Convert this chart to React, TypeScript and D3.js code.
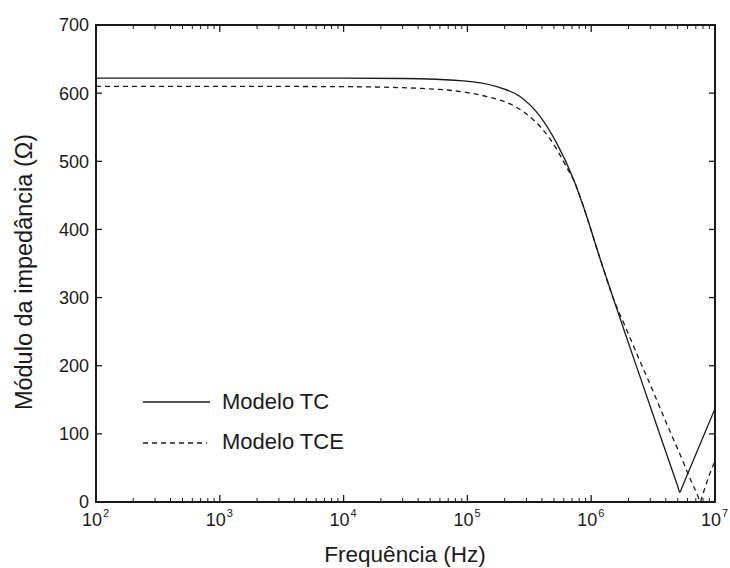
import React from 'react';
import * as d3 from 'd3';

// Frequency (Hz) and impedance magnitude (Ohm)
const tcFreq = [1e2, 1e3, 1e4, 3e4, 9.3e4, 1.73e5, 2.66e5, 3.86e5, 5.25e5, 7.18e5, 8.6e5, 1.18e6, 1.5e6, 1.9e6, 2.6e6, 3.6e6, 5.0e6, 5.2e6, 5.4e6, 7.5e6, 1e7];
const tcZ = [622, 622, 622, 621.5, 618, 609.5, 595, 566, 527, 474, 435, 357, 300, 245, 173, 98, 23, 14, 21, 83, 137];

const tceFreq = [1e2, 1e3, 1e4, 4.14e4, 7.7e4, 1.43e5, 2.34e5, 3.4e5, 4.65e5, 6.3e5, 7.64e5, 8.6e5, 1.18e6, 1.5e6, 1.9e6, 2.5e6, 3.0e6, 4.07e6, 5.5e6, 6.3e6, 7.3e6, 7.6e6, 7.8e6, 9.1e6, 1e7];
const tceZ = [610, 610, 609.5, 607, 603.6, 595, 582, 561, 533, 492, 462, 435, 357, 300, 256, 205, 172, 115, 60, 34, 8, 0, 6, 42, 60];

const xExponents = [2, 3, 4, 5, 6, 7];
const yTicks = [0, 100, 200, 300, 400, 500, 600, 700];
const seriesNames = ['Modelo TC', 'Modelo TCE'];
const xTitle = 'Frequência (Hz)';
const yTitle = 'Módulo da impedância (Ω)';

const W = 730, H = 568;
const L = 96, R = 715, T = 25, B = 502;
const ink = '#1a1a1a';
const font = 'Liberation Sans, Arial, sans-serif';

export default function App() {
  const x = d3.scaleLog().domain([1e2, 1e7]).range([L, R]);
  const y = d3.scaleLinear().domain([0, 700]).range([B, T]);
  const line = d3.line<number>().curve(d3.curveMonotoneX);
  const tcPts = tcFreq.map((f, i) => [x(f), y(tcZ[i])] as [number, number]);
  const tcePts = tceFreq.map((f, i) => [x(f), y(tceZ[i])] as [number, number]);

  const minor: number[] = [];
  for (let e = 2; e < 7; e++) for (let k = 2; k <= 9; k++) minor.push(k * Math.pow(10, e));

  return (
    <svg width={W} height={H} style={{ position: 'absolute', left: 0, top: 0, background: '#fff' }} fontFamily={font}>
      <defs>
        <clipPath id="plotclip"><rect x={L} y={T} width={R - L} height={B - T} /></clipPath>
      </defs>
      <g clipPath="url(#plotclip)">
        <path d={line(tcPts as any) || ''} fill="none" stroke={ink} strokeWidth={1.3} />
        <path d={line(tcePts as any) || ''} fill="none" stroke={ink} strokeWidth={1.3} strokeDasharray="5,4" />
      </g>
      {/* frame */}
      <rect x={L} y={T} width={R - L} height={B - T} fill="none" stroke={ink} strokeWidth={2} />
      {/* x ticks */}
      {xExponents.map(e => {
        const px = x(Math.pow(10, e));
        return (
          <g key={'xt' + e}>
            <line x1={px} x2={px} y1={B} y2={B - 7} stroke={ink} strokeWidth={1.3} />
            <line x1={px} x2={px} y1={T} y2={T + 7} stroke={ink} strokeWidth={1.3} />
            <text x={px - 4} y={526} fontSize={18} textAnchor="middle" fill={ink}>10</text>
            <text x={px + 7} y={517} fontSize={11} textAnchor="start" fill={ink}>{e}</text>
          </g>
        );
      })}
      {minor.map(f => {
        const px = x(f);
        return (
          <g key={'xm' + f}>
            <line x1={px} x2={px} y1={B} y2={B - 4} stroke={ink} strokeWidth={1} />
            <line x1={px} x2={px} y1={T} y2={T + 4} stroke={ink} strokeWidth={1} />
          </g>
        );
      })}
      {/* y ticks */}
      {yTicks.map(v => {
        const py = y(v);
        return (
          <g key={'yt' + v}>
            <line x1={L} x2={L + 6} y1={py} y2={py} stroke={ink} strokeWidth={1.3} />
            <line x1={R} x2={R - 6} y1={py} y2={py} stroke={ink} strokeWidth={1.3} />
            <text x={89} y={py} dy="0.36em" fontSize={18} textAnchor="end" fill={ink}>{v}</text>
          </g>
        );
      })}
      {/* titles */}
      <text x={405} y={562} fontSize={22.5} textAnchor="middle" fill={ink}>{xTitle}</text>
      <text transform={`translate(31.5,272) rotate(-90)`} fontSize={23.5} textAnchor="middle" fill={ink}>{yTitle}</text>
      {/* legend */}
      <line x1={143} x2={210} y1={402} y2={402} stroke={ink} strokeWidth={1.3} />
      <text x={222} y={409} fontSize={22} fill={ink}>{seriesNames[0]}</text>
      <line x1={143} x2={207} y1={443} y2={443} stroke={ink} strokeWidth={1.3} strokeDasharray="5,4" />
      <text x={222} y={449} fontSize={22} fill={ink}>{seriesNames[1]}</text>
    </svg>
  );
}
